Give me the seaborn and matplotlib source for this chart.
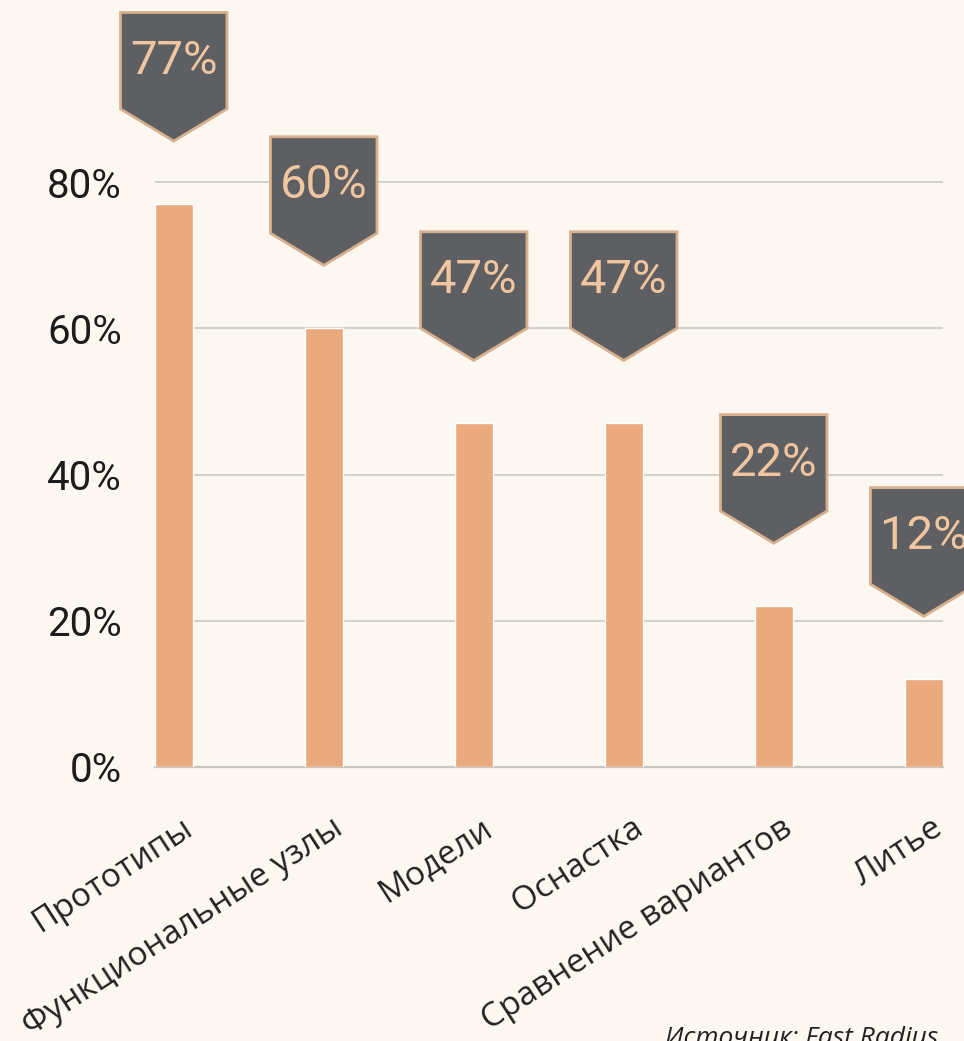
import matplotlib
matplotlib.use("Agg")
import matplotlib.pyplot as plt
import matplotlib.transforms as mtransforms
from matplotlib.patches import Polygon
import seaborn as sns
import pandas as pd

categories = ["Прототипы", "Функциональные узлы", "Модели", "Оснастка",
              "Сравнение вариантов", "Литье"]
values = [77, 60, 47, 47, 22, 12]
yticks = [0, 20, 40, 60, 80]
ytick_labels = ["0%", "20%", "40%", "60%", "80%"]
source_text = "Источник: Fast Radius"

BG = "#fcf7f0"
BAR = "#eba97e"
BADGE = "#5e5f62"
BADGE_EDGE = "#d9b08e"
BADGE_TEXT = "#f1c59f"
GRID = "#d3cfca"

sns.set_theme(style="white")
plt.rcParams["font.family"] = ["Roboto", "DejaVu Sans"]

fig = plt.figure(figsize=(9.64, 10.41), dpi=100, facecolor=BG)
ax = fig.add_axes([155 / 964, (1041 - 767) / 1041, 787.5 / 964, 767 / 1041])
ax.set_facecolor(BG)

df = pd.DataFrame({"cat": categories, "val": values})
sns.barplot(data=df, x="cat", y="val", color=BAR, saturation=1, width=0.25,
            ax=ax, zorder=3)

ax.set_xlim(-0.125, 5.125)
ax.set_ylim(0, 104.9)
ax.set_yticks(yticks)
ax.set_yticklabels(ytick_labels, fontsize=29, color="#1c1c1c")
ax.tick_params(axis="y", length=0, pad=24)
ax.yaxis.grid(True, color=GRID, linewidth=1.4, zorder=0)
ax.set_axisbelow(True)
for s in ["top", "right", "left"]:
    ax.spines[s].set_visible(False)
ax.spines["bottom"].set_color("#c9c5c0")
ax.spines["bottom"].set_linewidth(1.6)
ax.set_xlabel("")
ax.set_ylabel("")

ax.tick_params(axis="x", length=0, pad=32)
ax.set_xticks(range(len(categories)))
ax.set_xticklabels(categories, rotation=33, ha="right", va="top",
                   rotation_mode="anchor", fontsize=24, color="#222222",
                   family=["Open Sans", "DejaVu Sans"])
offset = mtransforms.ScaledTranslation(7 / 100, 0, fig.dpi_scale_trans)
for lab in ax.get_xticklabels():
    lab.set_transform(lab.get_transform() + offset)

# badges
gap, height, tri, half_w = 8.6, 17.6, 4.4, 0.355
for i, v in enumerate(values):
    tip = v + gap
    shoulder = tip + tri
    top = tip + height
    poly = Polygon([(i - half_w, top), (i + half_w, top), (i + half_w, shoulder),
                    (i, tip), (i - half_w, shoulder)], closed=True,
                   facecolor=BADGE, edgecolor=BADGE_EDGE, linewidth=2,
                   zorder=5, clip_on=False, joinstyle="miter")
    ax.add_patch(poly)
    ax.text(i, (shoulder + top) / 2, f"{v}%", ha="center", va="center",
            fontsize=34, color=BADGE_TEXT, zorder=6, clip_on=False)

fig.text(665 / 964, (1041 - 1026) / 1041, source_text, ha="left", va="top",
         fontsize=19, style="italic", color="#222222",
         family=["Open Sans", "DejaVu Sans"])

fig.savefig("out.png", dpi=100, facecolor=BG)
